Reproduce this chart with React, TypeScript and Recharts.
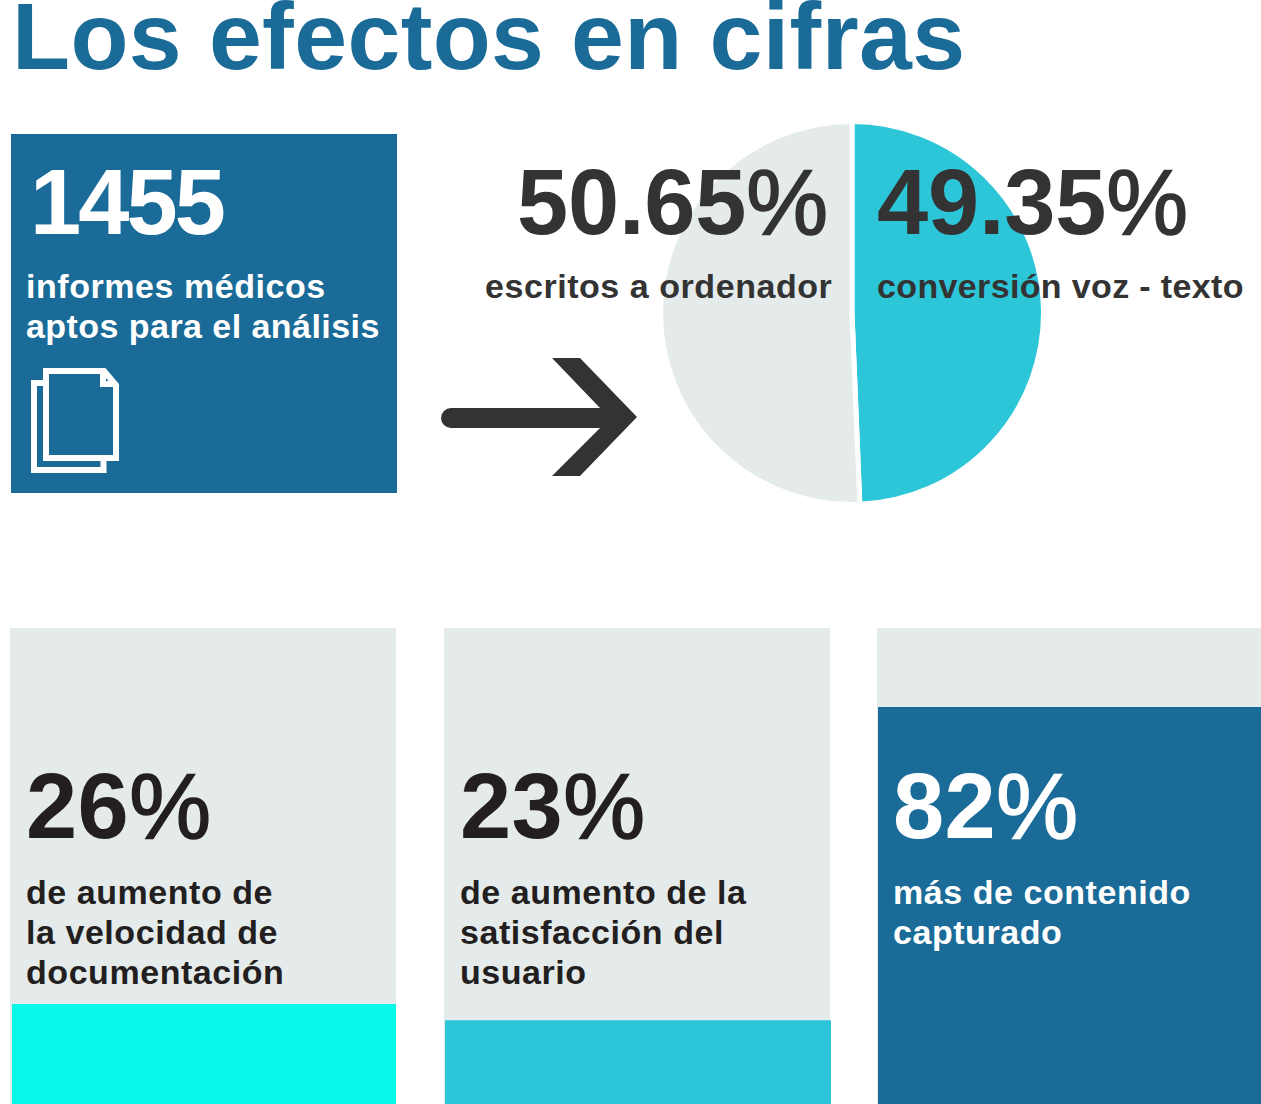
import { Bar, BarChart, Cell, Pie, PieChart, XAxis, YAxis } from "recharts";

const splitLabels = ["conversión voz - texto", "escritos a ordenador"];
const splitValues = [49.35, 50.65];
const splitColors = ["#2dc6d8", "#e5ebeb"];

const panelNames = ["velocidad de documentación", "satisfacción del usuario", "contenido capturado"];
const panelFilled = [21, 17.6, 83.4];
const panelColors = ["#08f7e8", "#2dc6d8", "#1b6b98"];
const panelTracks = [
  { left: 10, width: 386 },
  { left: 444, width: 386 },
  { left: 877, width: 384 },
];
const panelBars = [
  { left: 12, width: 384 },
  { left: 445, width: 386 },
  { left: 878, width: 383 },
];

const sans = "'Liberation Sans', Arial, sans-serif";
const blue = "#1b6b98";
const dark = "#333333";
const black = "#231f20";

function Big({ x, y, fill, spacing = 0.4, children }: { x: number; y: number; fill: string; spacing?: number; children: string }) {
  const isPercent = children.endsWith("%");
  const digits = isPercent ? children.slice(0, -1) : children;
  return (
    <text x={x} y={y} fill={fill} fontFamily={sans} fontWeight={700} fontSize={92} letterSpacing={spacing}>
      {digits}
      {isPercent && (
        <tspan fontWeight={400} stroke={fill} strokeWidth={1.6} letterSpacing={0}>%</tspan>
      )}
    </text>
  );
}

function Small({ x, y, fill, spacing = 0.55, children }: { x: number; y: number; fill: string; spacing?: number; children: string }) {
  return (
    <text x={x} y={y} fill={fill} fontFamily={sans} fontWeight={700} fontSize={34} letterSpacing={spacing}>
      {children}
    </text>
  );
}

function Panel({ index }: { index: number }) {
  const bar = panelBars[index];
  const row = [{ name: panelNames[index], value: panelFilled[index] }];
  return (
    <>
      <div style={{ position: "absolute", top: 628, height: 476, background: "#e5ebeb", ...panelTracks[index] }} />
      <div style={{ position: "absolute", top: 628, left: bar.left }}>
        <BarChart width={bar.width} height={476} data={row} margin={{ top: 0, right: 0, bottom: 0, left: 0 }} barCategoryGap={0}>
          <XAxis dataKey="name" hide />
          <YAxis domain={[0, 100]} hide />
          <Bar dataKey="value" fill={panelColors[index]} isAnimationActive={false} />
        </BarChart>
      </div>
    </>
  );
}

export default function App() {
  const pieData = splitLabels.map((name, i) => ({ name, value: splitValues[i] }));
  return (
    <div style={{ position: "absolute", left: 0, top: 0, width: 1261, height: 1104, overflow: "hidden", background: "#fff" }}>
      <div style={{ position: "absolute", left: 11, top: 134, width: 386, height: 358.5, background: blue }} />

      <div style={{ position: "absolute", left: 652, top: 113 }}>
        <PieChart width={400} height={400} margin={{ top: 0, right: 0, bottom: 0, left: 0 }}>
          <Pie
            data={pieData}
            dataKey="value"
            nameKey="name"
            cx={200}
            cy={200}
            outerRadius={191.5}
            startAngle={90}
            endAngle={-270}
            stroke="#fff"
            strokeWidth={5}
            isAnimationActive={false}
          >
            {pieData.map((_, i) => <Cell key={i} fill={splitColors[i]} />)}
          </Pie>
        </PieChart>
      </div>

      {panelNames.map((_, i) => <Panel key={i} index={i} />)}

      <svg width={1261} height={1104} style={{ position: "absolute", left: 0, top: 0 }}>
        <text x={12} y={69} fill={blue} fontFamily={sans} fontWeight={700} fontSize={95} letterSpacing={0.4}>
          Los efectos en cifras
        </text>

        <Big x={30} y={234} fill="#fff" spacing={-2.9}>1455</Big>
        <Small x={26} y={298} fill="#fff">informes médicos</Small>
        <Small x={26} y={338} fill="#fff" spacing={0.45}>aptos para el análisis</Small>

        {/* sheets icon */}
        <g fill="none" stroke="#fff" strokeWidth={6}>
          <path d="M46 458V371H104L116 385V458Z" />
          <path d="M103 371V384H116" />
          <path d="M43 383H34V470H103.5V461" />
        </g>

        {/* arrow */}
        <path
          d="M451 408H600L552 358H580L637 417L580 476H552L600 428H451A10 10 0 0 1 451 408Z"
          fill={dark}
        />

        <Big x={517} y={234} fill={dark} spacing={-0.2}>50.65%</Big>
        <Small x={485} y={298} fill={dark}>escritos a ordenador</Small>
        <Big x={877} y={234} fill={dark} spacing={-0.2}>49.35%</Big>
        <Small x={877} y={298} fill={dark} spacing={0.36}>conversión voz - texto</Small>

        <Big x={26} y={838} fill={black}>26%</Big>
        <Small x={26} y={904} fill={black}>de aumento de</Small>
        <Small x={26} y={944} fill={black}>la velocidad de</Small>
        <Small x={26} y={984} fill={black}>documentación</Small>

        <Big x={460} y={838} fill={black}>23%</Big>
        <Small x={460} y={904} fill={black}>de aumento de la</Small>
        <Small x={460} y={944} fill={black}>satisfacción del</Small>
        <Small x={460} y={984} fill={black}>usuario</Small>

        <Big x={893} y={838} fill="#fff">82%</Big>
        <Small x={893} y={904} fill="#fff">más de contenido</Small>
        <Small x={893} y={944} fill="#fff">capturado</Small>
      </svg>
    </div>
  );
}
